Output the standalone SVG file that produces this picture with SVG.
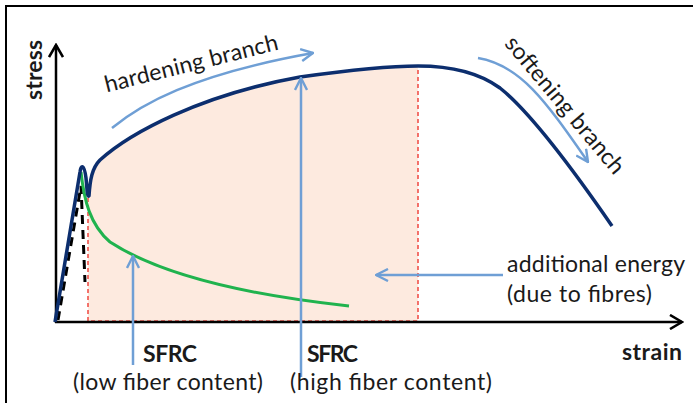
<svg xmlns="http://www.w3.org/2000/svg" width="693" height="403" viewBox="0 0 693 403">
<defs>
<style>
.txt{font-family:Lato,"Open Sans","Liberation Sans",sans-serif;fill:#1a1a1a;font-size:23px}
.b{font-weight:bold}
.la{fill:none;stroke:#6f9fd5;stroke-width:2.5}
.ax{fill:none;stroke:#000;stroke-width:2.5}
.rd{fill:none;stroke:#f0524a;stroke-width:1.6;stroke-dasharray:4 3}
</style>
<marker id="ah" viewBox="0 0 14 14" refX="13" refY="7" markerWidth="14" markerHeight="14" markerUnits="userSpaceOnUse" orient="auto">
<path d="M1,1 L13,7 L1,13" fill="none" stroke="#6f9fd5" stroke-width="2.4"/>
</marker>
<marker id="axh" viewBox="0 0 16 16" refX="14" refY="8" markerWidth="16" markerHeight="16" markerUnits="userSpaceOnUse" orient="auto">
<path d="M2,1 L14,8 L2,15" fill="none" stroke="#000" stroke-width="2.6"/>
</marker>
</defs>
<rect width="693" height="403" fill="#fff"/>
<g id="frame">
<line x1="5" y1="6" x2="693" y2="6" stroke="#000" stroke-width="2"/>
<line x1="6" y1="5" x2="6" y2="403" stroke="#000" stroke-width="2"/>
</g>
<g id="energy-area">
<path d="M 88 322 L 88 196 C 90 180, 92 168, 100 160 C 130 133, 200 95, 300 77 C 350 70, 390 66, 418 66 L 418 322 Z" fill="#fdeadf"/>
<path class="rd" d="M 88 198 L 88 321 L 418 321 L 418 68"/>
</g>
<g id="axes">
<line class="ax" x1="56" y1="323" x2="56" y2="45" marker-end="url(#axh)"/>
<line class="ax" x1="55" y1="322" x2="682" y2="322" marker-end="url(#axh)"/>
<text class="txt b" transform="translate(42,70) rotate(-90)" text-anchor="middle" textLength="60">stress</text>
<text class="txt b" x="622" y="360" textLength="60">strain</text>
</g>
<g id="curves">
<path d="M 58 320 L 81 186 L 85 282" fill="none" stroke="#000" stroke-width="3" stroke-dasharray="9 6"/>
<path d="M 81 172 C 84 200, 90 225, 110 242 C 150 268, 220 292, 349 306" fill="none" stroke="#20b34e" stroke-width="3"/>
<path d="M 55 322 L 80 172 C 81 165, 84 163, 86 178 C 87 188, 87 197, 89 196 C 90 180, 92 168, 100 160 C 130 133, 200 95, 300 77 C 350 70, 390 66, 418 66 C 450 66, 478 72, 500 88 C 530 112, 570 165, 612 226" fill="none" stroke="#0c2e6e" stroke-width="3.5" stroke-linejoin="round"/>
</g>
<g id="connectors">
<path class="la" d="M 112 128 C 140 105, 190 75, 313 53" marker-end="url(#ah)"/>
<path class="la" d="M 478 58 C 520 65, 545 100, 588 162" marker-end="url(#ah)"/>
<line class="la" x1="133" y1="365" x2="133" y2="256" marker-end="url(#ah)"/>
<line class="la" x1="301" y1="377" x2="301" y2="78" marker-end="url(#ah)"/>
<line class="la" x1="503" y1="275" x2="376" y2="275" marker-end="url(#ah)"/>
</g>
<g id="labels">
<text class="txt" transform="translate(193,71) rotate(-14)" text-anchor="middle" textLength="178">hardening branch</text>
<text class="txt" transform="translate(559,110) rotate(50)" text-anchor="middle" textLength="172">softening branch</text>
<text class="txt b" x="143" y="362" textLength="54">SFRC</text>
<text class="txt" x="73" y="390" textLength="190">(low fiber content)</text>
<text class="txt b" x="307" y="362" textLength="51">SFRC</text>
<text class="txt" x="290" y="390" textLength="202">(high fiber content)</text>
<text class="txt" x="507" y="272" textLength="178">additional energy</text>
<text class="txt" x="507" y="302" textLength="145">(due to fibres)</text>
</g>
</svg>
